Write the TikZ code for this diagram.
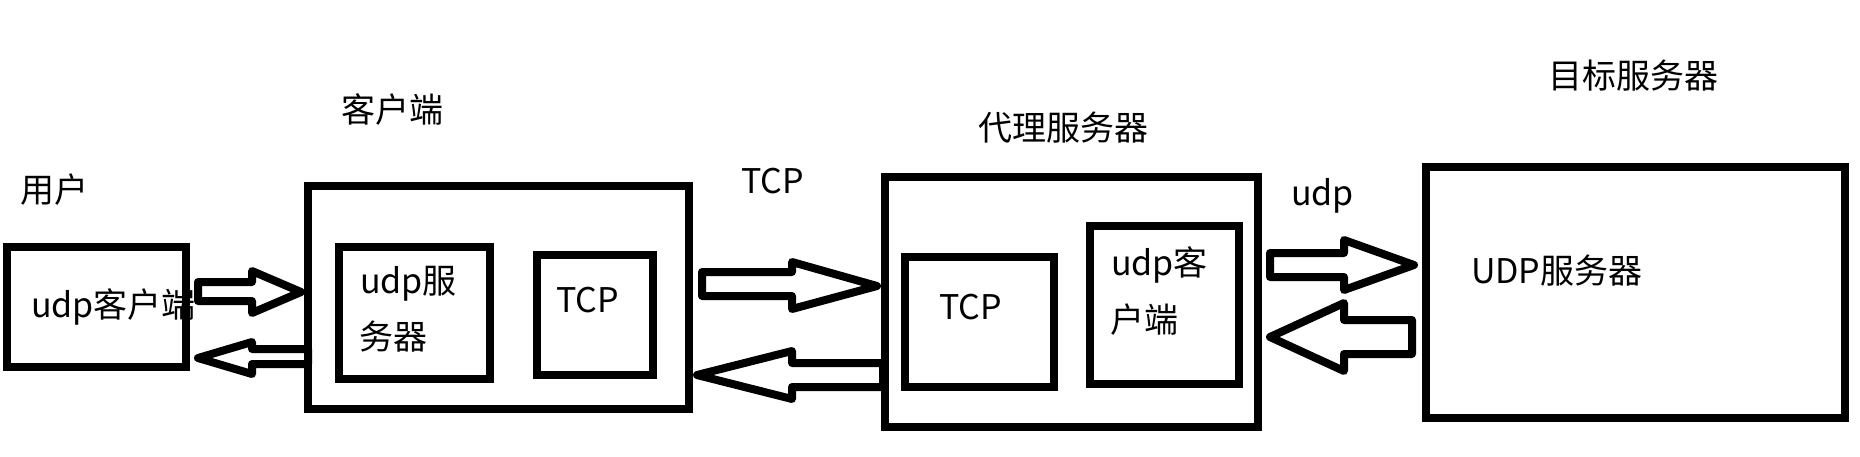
\documentclass[tikz,border=0pt]{standalone}
\usepackage{fontspec}
\setmainfont{Noto Sans CJK SC}
\begin{document}
\begin{tikzpicture}[x=1pt,y=-1pt,
  box/.style={draw=black,line width=8.5pt,rectangle,inner sep=0pt,outer sep=0pt},
  lbl/.style={inner sep=0pt,outer sep=0pt,anchor=base west,font=\fontsize{34pt}{40pt}\selectfont},
  barrow/.style={draw=black,fill=white,line width=8pt,line join=round}]
\useasboundingbox[fill=white] (0,0) rectangle (1860,456);
% boxes
\node[box,minimum width=179pt,minimum height=120pt] (user) at (96.5,307) {};
\node[box,minimum width=381pt,minimum height=223pt] (client) at (498.5,297.5) {};
\node[box,minimum width=151pt,minimum height=132pt] (usrv) at (414.5,313) {};
\node[box,minimum width=116pt,minimum height=120pt] (ctcp) at (595,315) {};
\node[box,minimum width=373pt,minimum height=250pt] (proxy) at (1071.5,302) {};
\node[box,minimum width=149pt,minimum height=130pt] (ptcp) at (979.5,322) {};
\node[box,minimum width=149pt,minimum height=158pt] (ucli) at (1164.5,305) {};
\node[box,minimum width=419pt,minimum height=251pt] (target) at (1635.5,292.5) {};
% labels
\node[lbl] (tuser) at (20,202) {用户};
\node[lbl] (tuserc) at (31,317) {udp客户端};
\node[lbl] (tclient) at (341,122) {客户端};
\node[lbl] (tusrv1) at (360,293) {udp服};
\node[lbl] (tusrv2) at (359,349) {务器};
\node[lbl] (tctcp) at (556,312) {TCP};
\node[lbl] (ttcp) at (741,193) {TCP};
\node[lbl] (tproxy) at (978,140) {代理服务器};
\node[lbl] (tptcp) at (939,319) {TCP};
\node[lbl] (tucli1) at (1111,275) {udp客};
\node[lbl] (tucli2) at (1110,332) {户端};
\node[lbl] (tudp) at (1291,205) {udp};
\node[lbl] (ttarget) at (1548,88) {目标服务器};
\node[lbl] (tusrvt) at (1471,283) {UDP服务器};
% block arrows: user <-> client
\draw[barrow] (198,282) -- (252,282) -- (252,271) -- (301,292) -- (252,313) -- (252,301) -- (198,301) -- cycle;
\draw[barrow] (308,349) -- (252,349) -- (252,342) -- (198,358) -- (252,374) -- (252,364) -- (308,364) -- cycle;
% client <-> proxy
\draw[barrow] (702,272) -- (792,272) -- (792,262) -- (877,286) -- (792,309) -- (792,296) -- (702,296) -- cycle;
\draw[barrow] (883,363) -- (792,363) -- (792,351) -- (697,375) -- (792,399) -- (792,387) -- (883,387) -- cycle;
% proxy <-> target
\draw[barrow] (1270,253) -- (1344,253) -- (1344,240) -- (1414,265) -- (1344,290) -- (1344,277) -- (1270,277) -- cycle;
\draw[barrow] (1412,320) -- (1344,320) -- (1344,303) -- (1270,337) -- (1344,371) -- (1344,354) -- (1412,354) -- cycle;
% redraw box edges over arrow ends
\draw[line width=8.5pt] (client.south west) -- (client.north west);
\draw[line width=8.5pt] (proxy.south west) -- (proxy.north west);
\end{tikzpicture}
\end{document}
